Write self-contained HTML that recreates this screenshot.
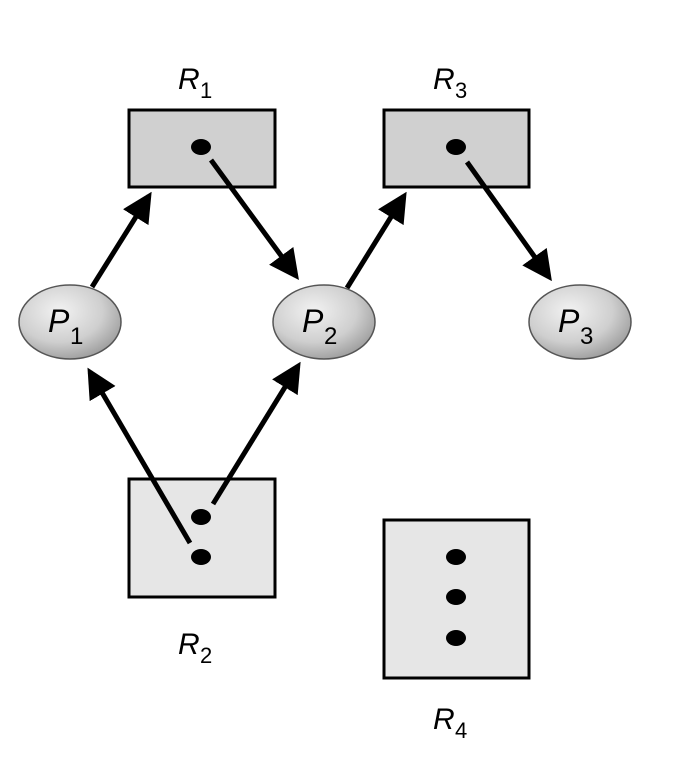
<!DOCTYPE html>
<html><head><style>body{margin:0;background:#fff}</style></head><body>
<svg width="689" height="762" viewBox="0 0 689 762" xmlns="http://www.w3.org/2000/svg">
<defs>
<marker id="a" markerWidth="6" markerHeight="6" refX="5" refY="3" orient="auto" markerUnits="strokeWidth"><path d="M0,0 L6,3 L0,6 z" fill="#000"/></marker>
<radialGradient id="g" cx="0.4" cy="0.35" r="0.7"><stop offset="0" stop-color="#f2f2f2"/><stop offset="0.6" stop-color="#cfcfcf"/><stop offset="1" stop-color="#9a9a9a"/></radialGradient>
</defs>
<g font-family="Liberation Sans, sans-serif" font-style="italic" fill="#000">
<text x="178" y="89" font-size="30">R</text><text x="200" y="98" font-size="22" font-style="normal">1</text>
<text x="433" y="89" font-size="30">R</text><text x="455" y="98" font-size="22" font-style="normal">3</text>
<text x="178" y="654" font-size="30">R</text><text x="200" y="663" font-size="22" font-style="normal">2</text>
<text x="433" y="729" font-size="30">R</text><text x="455" y="738" font-size="22" font-style="normal">4</text>
</g>
<rect x="129" y="110" width="146" height="77" fill="#d0d0d0" stroke="#000" stroke-width="3"/>
<rect x="384" y="110" width="145" height="77" fill="#d0d0d0" stroke="#000" stroke-width="3"/>
<rect x="129" y="479" width="146" height="118" fill="#e6e6e6" stroke="#000" stroke-width="3"/>
<rect x="384" y="520" width="145" height="158" fill="#e6e6e6" stroke="#000" stroke-width="3"/>
<g fill="#000">
<ellipse cx="201" cy="147" rx="10" ry="8"/><ellipse cx="456" cy="147" rx="10" ry="8"/>
<ellipse cx="201" cy="517" rx="10" ry="8"/><ellipse cx="201" cy="557" rx="10" ry="8"/>
<ellipse cx="456" cy="557" rx="10" ry="8"/><ellipse cx="456" cy="597" rx="10" ry="8"/><ellipse cx="456" cy="638" rx="10" ry="8"/>
</g>
<g stroke="#000" stroke-width="5" marker-end="url(#a)">
<line x1="92" y1="287" x2="149" y2="196"/>
<line x1="211" y1="160" x2="296" y2="276"/>
<line x1="347" y1="288" x2="404" y2="196"/>
<line x1="467" y1="162" x2="549" y2="277"/>
<line x1="190" y1="543" x2="90" y2="372"/>
<line x1="213" y1="504" x2="298" y2="366"/>
</g>
<g stroke="#555" stroke-width="1.5" fill="url(#g)">
<ellipse cx="70" cy="322" rx="51" ry="37"/>
<ellipse cx="324" cy="322" rx="51" ry="37"/>
<ellipse cx="580" cy="322" rx="51" ry="37"/>
</g>
<g font-family="Liberation Sans, sans-serif" fill="#000">
<text x="48" y="332" font-size="32" font-style="italic">P</text><text x="70" y="344" font-size="24">1</text>
<text x="302" y="332" font-size="32" font-style="italic">P</text><text x="324" y="344" font-size="24">2</text>
<text x="558" y="332" font-size="32" font-style="italic">P</text><text x="580" y="344" font-size="24">3</text>
</g>
</svg>
</body></html>
